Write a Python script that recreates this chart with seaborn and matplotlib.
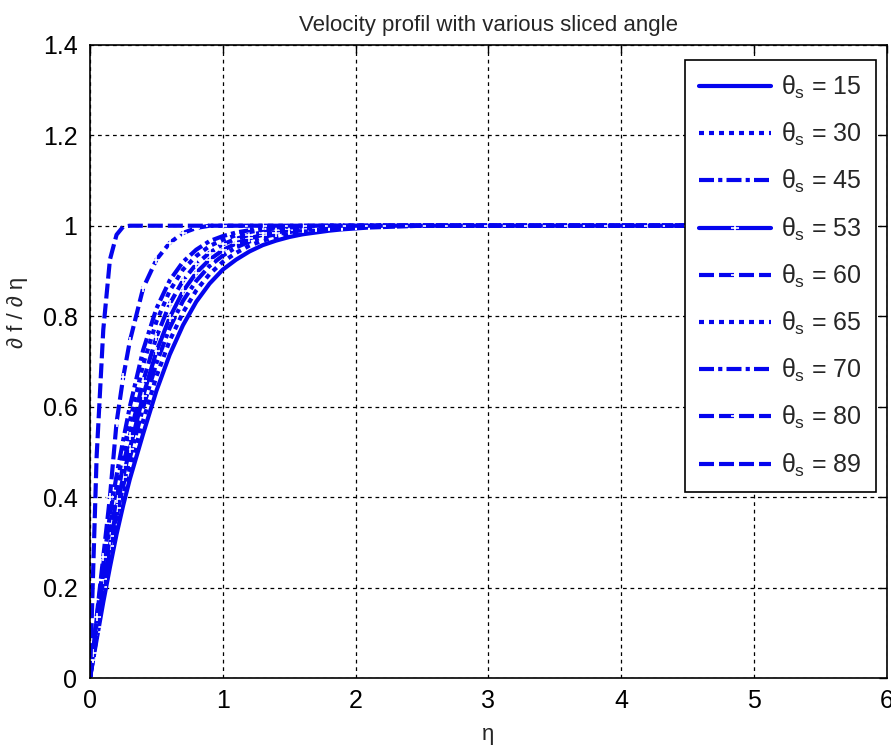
import numpy as np
import pandas as pd
import matplotlib
matplotlib.use('Agg')
import matplotlib.pyplot as plt
from matplotlib.ticker import FormatStrFormatter
import seaborn as sns

# eta grid (denser close to the wall)
eta = [0.0, 0.02, 0.05, 0.1, 0.15, 0.2, 0.25, 0.3,
       0.4, 0.5, 0.6, 0.7, 0.8, 0.9, 1.0, 1.1, 1.2, 1.3, 1.4, 1.5,
       1.6, 1.7, 1.8, 1.9, 2.0, 2.1, 2.2, 2.3, 2.4, 2.5, 2.6, 2.7, 2.8, 2.9, 3.0,
       3.1, 3.2, 3.3, 3.4, 3.5, 3.6, 3.7, 3.8, 3.9, 4.0,
       4.1, 4.2, 4.3, 4.4, 4.5, 4.6, 4.7, 4.8, 4.9, 5.0]

angles = [15, 30, 45, 53, 60, 65, 70, 80, 89]

fp_15 = [0.0, 0.034, 0.085, 0.168, 0.245, 0.318, 0.382, 0.44,
         0.54, 0.635, 0.715, 0.78, 0.832, 0.872, 0.903, 0.925, 0.943, 0.957, 0.967, 0.975,
         0.981, 0.985, 0.989, 0.992, 0.994, 0.996, 0.997, 0.998, 0.999, 1.0, 1.0, 1.0, 1.0, 1.0, 1.0,
         1.0, 1.0, 1.0, 1.0, 1.0, 1.0, 1.0, 1.0, 1.0, 1.0,
         1.0, 1.0, 1.0, 1.0, 1.0, 1.0, 1.0, 1.0, 1.0, 1.0]
fp_30 = [0.0, 0.037, 0.091, 0.18, 0.261, 0.337, 0.404, 0.464,
         0.569, 0.667, 0.746, 0.808, 0.857, 0.893, 0.92, 0.94, 0.956, 0.967, 0.975, 0.982,
         0.986, 0.99, 0.993, 0.995, 0.9965, 0.998, 0.999, 1.0, 1.0, 1.0, 1.0, 1.0, 1.0, 1.0, 1.0,
         1.0, 1.0, 1.0, 1.0, 1.0, 1.0, 1.0, 1.0, 1.0, 1.0,
         1.0, 1.0, 1.0, 1.0, 1.0, 1.0, 1.0, 1.0, 1.0, 1.0]
fp_45 = [0.0, 0.039, 0.097, 0.191, 0.278, 0.357, 0.425, 0.487,
         0.598, 0.696, 0.774, 0.834, 0.878, 0.911, 0.934, 0.952, 0.965, 0.975, 0.981, 0.986,
         0.99, 0.993, 0.995, 0.997, 0.998, 0.999, 1.0, 1.0, 1.0, 1.0, 1.0, 1.0, 1.0, 1.0, 1.0,
         1.0, 1.0, 1.0, 1.0, 1.0, 1.0, 1.0, 1.0, 1.0, 1.0,
         1.0, 1.0, 1.0, 1.0, 1.0, 1.0, 1.0, 1.0, 1.0, 1.0]
fp_53 = [0.0, 0.041, 0.103, 0.202, 0.293, 0.375, 0.445, 0.507,
         0.624, 0.722, 0.797, 0.855, 0.896, 0.925, 0.946, 0.961, 0.972, 0.98, 0.985, 0.99,
         0.993, 0.995, 0.997, 0.998, 0.999, 1.0, 1.0, 1.0, 1.0, 1.0, 1.0, 1.0, 1.0, 1.0, 1.0,
         1.0, 1.0, 1.0, 1.0, 1.0, 1.0, 1.0, 1.0, 1.0, 1.0,
         1.0, 1.0, 1.0, 1.0, 1.0, 1.0, 1.0, 1.0, 1.0, 1.0]
fp_60 = [0.0, 0.044, 0.112, 0.218, 0.314, 0.397, 0.47, 0.535,
         0.656, 0.754, 0.827, 0.879, 0.915, 0.94, 0.959, 0.971, 0.98, 0.985, 0.99, 0.993,
         0.996, 0.997, 0.999, 1.0, 1.0, 1.0, 1.0, 1.0, 1.0, 1.0, 1.0, 1.0, 1.0, 1.0, 1.0,
         1.0, 1.0, 1.0, 1.0, 1.0, 1.0, 1.0, 1.0, 1.0, 1.0,
         1.0, 1.0, 1.0, 1.0, 1.0, 1.0, 1.0, 1.0, 1.0, 1.0]
fp_65 = [0.0, 0.049, 0.12, 0.234, 0.336, 0.424, 0.499, 0.568,
         0.693, 0.788, 0.856, 0.903, 0.933, 0.955, 0.969, 0.979, 0.986, 0.991, 0.994, 0.996,
         0.998, 0.999, 1.0, 1.0, 1.0, 1.0, 1.0, 1.0, 1.0, 1.0, 1.0, 1.0, 1.0, 1.0, 1.0,
         1.0, 1.0, 1.0, 1.0, 1.0, 1.0, 1.0, 1.0, 1.0, 1.0,
         1.0, 1.0, 1.0, 1.0, 1.0, 1.0, 1.0, 1.0, 1.0, 1.0]
fp_70 = [0.0, 0.052, 0.13, 0.251, 0.36, 0.448, 0.526, 0.60,
         0.725, 0.817, 0.879, 0.92, 0.947, 0.966, 0.977, 0.985, 0.99, 0.994, 0.9965, 0.998,
         0.9995, 1.0, 1.0, 1.0, 1.0, 1.0, 1.0, 1.0, 1.0, 1.0, 1.0, 1.0, 1.0, 1.0, 1.0,
         1.0, 1.0, 1.0, 1.0, 1.0, 1.0, 1.0, 1.0, 1.0, 1.0,
         1.0, 1.0, 1.0, 1.0, 1.0, 1.0, 1.0, 1.0, 1.0, 1.0]
fp_80 = [0.0, 0.055, 0.135, 0.268, 0.40, 0.565, 0.665, 0.745,
         0.862, 0.925, 0.962, 0.984, 0.995, 1.0, 1.0, 1.0, 1.0, 1.0, 1.0, 1.0,
         1.0, 1.0, 1.0, 1.0, 1.0, 1.0, 1.0, 1.0, 1.0, 1.0, 1.0, 1.0, 1.0, 1.0, 1.0,
         1.0, 1.0, 1.0, 1.0, 1.0, 1.0, 1.0, 1.0, 1.0, 1.0,
         1.0, 1.0, 1.0, 1.0, 1.0, 1.0, 1.0, 1.0, 1.0, 1.0]
fp_89 = [0.0, 0.2, 0.49, 0.77, 0.925, 0.98, 0.998, 1.0,
         1.0, 1.0, 1.0, 1.0, 1.0, 1.0, 1.0, 1.0, 1.0, 1.0, 1.0, 1.0,
         1.0, 1.0, 1.0, 1.0, 1.0, 1.0, 1.0, 1.0, 1.0, 1.0, 1.0, 1.0, 1.0, 1.0, 1.0,
         1.0, 1.0, 1.0, 1.0, 1.0, 1.0, 1.0, 1.0, 1.0, 1.0,
         1.0, 1.0, 1.0, 1.0, 1.0, 1.0, 1.0, 1.0, 1.0, 1.0]

profiles = [fp_15, fp_30, fp_45, fp_53, fp_60, fp_65, fp_70, fp_80, fp_89]

# matlab-like styles: (dash pattern, marker)
DOT = (1.2, 1.2)
DASHDOT = (3.6, 1.0, 1.0, 1.0)
DASH = (3.6, 1.2)
styles = [(None, None), (DOT, None), (DASHDOT, None), (None, '+'), (DASH, '+'),
          (DOT, None), (DASHDOT, None), (DASH, '+'), (DASH, None)]

sns.set_style('white')
plt.rcParams['font.family'] = ['Liberation Sans', 'DejaVu Sans']
plt.rcParams['mathtext.fontset'] = 'custom'
plt.rcParams['mathtext.rm'] = 'Liberation Sans'
plt.rcParams['mathtext.it'] = 'Liberation Sans'

fig = plt.figure(figsize=(8.91, 7.46), dpi=100)
ax = fig.add_axes([0.101, 0.091, 0.8945, 0.849])

blue = '#0505ee'
for ang, fp, (dash, mk) in zip(angles, profiles, styles):
    df = pd.DataFrame({'eta': eta, 'fp': fp})
    sns.lineplot(data=df, x='eta', y='fp', ax=ax, color=blue, linewidth=3.0,
                 errorbar=None, label=r'$\theta_s$ = %d' % ang)
    ln = ax.lines[-1]
    if dash is not None:
        ln.set_dashes(dash)
    if mk is not None:
        ln.set_marker(mk)
        ln.set_markersize(6)
        ln.set_markeredgewidth(1.2)

ax.set_xlim(0, 6)
ax.set_ylim(0, 1.4)
ax.set_xticks(np.arange(0, 7, 1))
ax.set_yticks(np.arange(0, 1.41, 0.2))
ax.yaxis.set_major_formatter(FormatStrFormatter('%g'))
ax.tick_params(direction='in', top=True, right=True, length=6, width=1,
               labelsize=18, colors='black')
ax.tick_params(axis='y', pad=9)
ax.tick_params(axis='x', pad=8)
ax.grid(True, color='black', linestyle=(0, (3, 3)), linewidth=0.9)
for s in ax.spines.values():
    s.set_color('black')
    s.set_linewidth(1.2)

ax.set_title('Velocity profil with various sliced angle', fontsize=16, pad=10)
ax.set_xlabel('η', fontsize=16, labelpad=8)
ax.set_ylabel('∂ f / ∂ η', fontsize=16)
ax.yaxis.set_label_coords(-0.078, 0.578)

leg = ax.legend(loc='upper right', bbox_to_anchor=(0.986, 0.976), borderaxespad=0,
                fontsize=18, handlelength=2.9, numpoints=1, labelspacing=0.8,
                fancybox=False, framealpha=1, edgecolor='black', borderpad=0.55,
                handletextpad=0.4)
leg.get_frame().set_linewidth(1.2)

fig.savefig('out.png', dpi=100)
